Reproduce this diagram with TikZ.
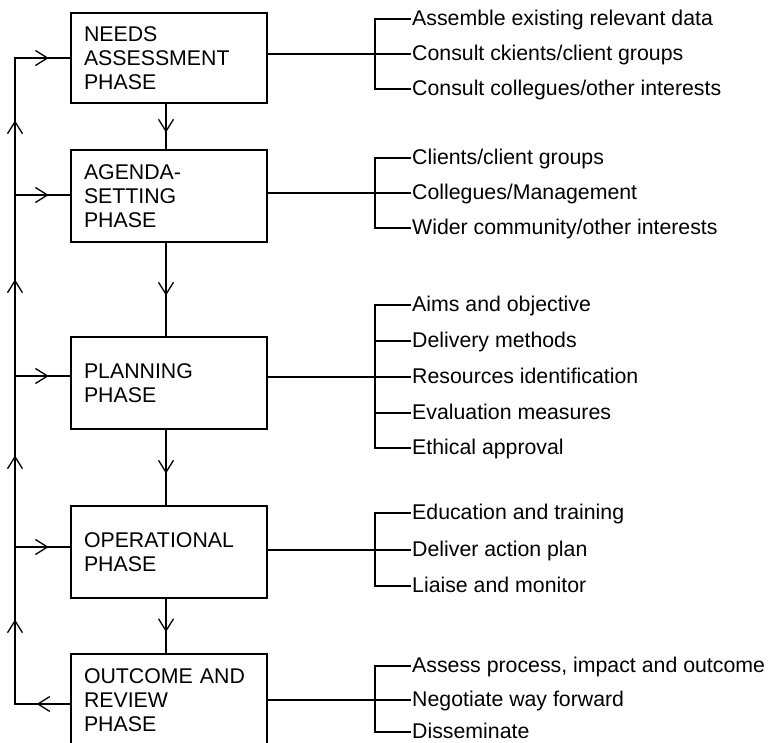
\documentclass[tikz,border=0pt]{standalone}
\usepackage{fontspec}
\setmainfont{Liberation Sans}
\usetikzlibrary{arrows.meta,calc}

% straight line between two points with an open V-head centred on its middle
\newcommand\arrowline[2]{%
  \draw[conn] (#1) -- (#2);
  \draw[conn,vtip] (#1) -- ($($(#1)!0.5!(#2)$)!6pt!(#2)$);}

% one entry of a bracket list: tick coordinate, label and tick stroke
\newcommand\listentry[3]{%
  \coordinate (k#1) at (375,#2);
  \node[itemtext] (r#1) at (410,#2+6.5) {#3};
  \draw[conn] (k#1) -- (k#1 -| r#1.west);}

\begin{document}
\begin{tikzpicture}[x=1pt,y=-1pt,
  conn/.style={line width=1.3pt, line cap=rect},
  phase/.style={draw, line width=1.3pt, minimum height=92pt,
    inner xsep=13pt, text width=170pt, align=left,
    font=\fontsize{21.3}{23.8}\selectfont},
  itemtext/.style={anchor=base west, inner xsep=2pt, inner ysep=0pt,
    font=\fontsize{21.3}{24}\selectfont},
  vtip/.style={-{Straight Barb[length=12pt,width=15pt]}}
]
\clip (0,0) rectangle (769,743);

% phase boxes
\node[phase, minimum height=90pt] (b1) at (169,58)  {NEEDS\\ASSESSMENT\\PHASE};
\node[phase] (b2) at (169,196) {AGENDA-\\SETTING\\PHASE};
\node[phase] (b3) at (169,383) {PLANNING\\PHASE};
\node[phase] (b4) at (169,552) {OPERATIONAL\\PHASE};
\node[phase] (b5) at (169,700) {OUTCOME AND\\REVIEW\\PHASE};

% main downward flow
\foreach \a/\b in {b1/b2,b2/b3,b3/b4,b4/b5}{
  \coordinate (\a s) at ([xshift=-3pt]\a.south);
  \coordinate (\b n) at (\a s |- \b.north);
  \arrowline{\a s}{\b n}
}

% feedback loop on the left
\coordinate (L1) at (15,58);
\coordinate (L2) at (15,195);
\coordinate (L3) at (15,376);
\coordinate (L4) at (15,547);
\coordinate (L5) at (15,704);
\foreach \i in {1,...,5}{\coordinate (b\i w) at (b\i.west |- L\i);}
\arrowline{b5w}{L5}
\arrowline{L5}{L4}
\arrowline{L4}{L3}
\arrowline{L3}{L2}
\arrowline{L2}{L1}
\arrowline{L1}{b1w}
\arrowline{L2}{b2w}
\arrowline{L3}{b3w}
\arrowline{L4}{b4w}

% task lists
\listentry{11}{19}{Assemble existing relevant data}
\listentry{12}{54}{Consult ckients/client groups}
\listentry{13}{89}{Consult collegues/other interests}

\listentry{21}{158}{Clients/client groups}
\listentry{22}{193}{Collegues/Management}
\listentry{23}{228}{Wider community/other interests}

\listentry{31}{305}{Aims and objective}
\listentry{32}{341}{Delivery methods}
\listentry{33}{377}{Resources identification}
\listentry{34}{413}{Evaluation measures}
\listentry{35}{448}{Ethical approval}

\listentry{41}{513}{Education and training}
\listentry{42}{550}{Deliver action plan}
\listentry{43}{586}{Liaise and monitor}

\listentry{51}{666}{Assess process, impact and outcome}
\listentry{52}{700}{Negotiate way forward}
\listentry{53}{732}{Disseminate}

% brackets joining each box to its list
\draw[conn] (k11) -- (k13);
\draw[conn] (k21) -- (k23);
\draw[conn] (k31) -- (k35);
\draw[conn] (k41) -- (k43);
\draw[conn] (k51) -- (k53);
\draw[conn] (b1.east |- k12) -- (k12);
\draw[conn] (b2.east |- k22) -- (k22);
\draw[conn] (b3.east |- k33) -- (k33);
\draw[conn] (b4.east |- k42) -- (k42);
\draw[conn] (b5.east |- k52) -- (k52);
\end{tikzpicture}
\end{document}
